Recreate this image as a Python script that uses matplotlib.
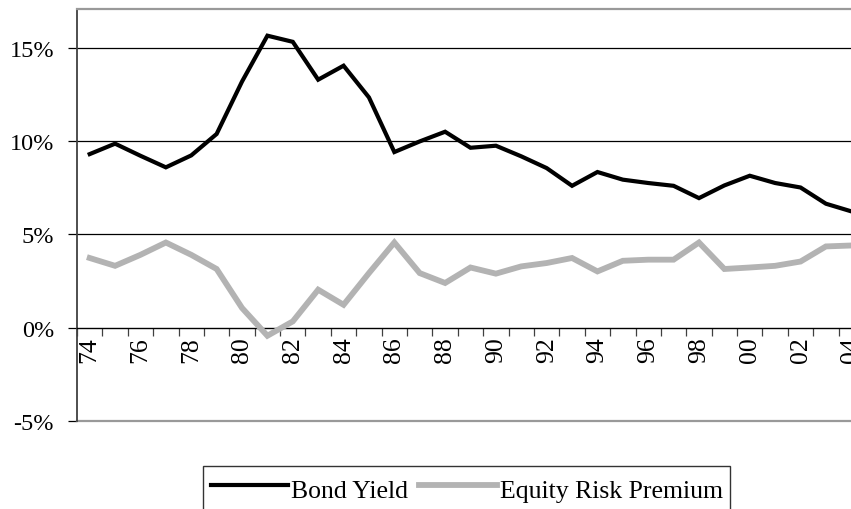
import numpy as np
import matplotlib.pyplot as plt
from matplotlib.ticker import FixedLocator, FuncFormatter

plt.rcParams['font.family'] = ['Liberation Serif', 'DejaVu Serif']

# data (percent)
years = list(range(1974, 2005))
bond_yield = [9.31, 9.87, 9.22, 8.60, 9.24, 10.39, 13.20, 15.66, 15.33, 13.30,
              14.05, 12.35, 9.42, 9.99, 10.51, 9.65, 9.76, 9.19, 8.56, 7.61,
              8.35, 7.94, 7.76, 7.61, 6.95, 7.63, 8.15, 7.76, 7.52, 6.65, 6.24]
equity_premium = [3.74, 3.32, 3.91, 4.57, 3.91, 3.15, 1.06, -0.43, 0.34, 2.04,
                  1.23, 2.93, 4.57, 2.93, 2.40, 3.23, 2.90, 3.29, 3.47, 3.74,
                  3.02, 3.59, 3.65, 3.65, 4.57, 3.15, 3.23, 3.32, 3.55, 4.36, 4.41]
y_ticks = [-5, 0, 5, 10, 15]

fig = plt.figure(figsize=(8.51, 5.10), dpi=100)
# plot area runs past the right edge of the picture, as in the original
ax = fig.add_axes([77 / 851, 88 / 510, 787 / 851, 412 / 510])

x = np.arange(len(years))
ax.plot(x, bond_yield, color='black', lw=3.0, label='Bond Yield', zorder=4,
        solid_joinstyle='miter')
ax.plot(x, equity_premium, color='#b3b3b3', lw=4.2, label='Equity Risk Premium', zorder=3,
        solid_joinstyle='miter')

ax.set_xlim(-0.5, len(years) - 0.5)
ax.set_ylim(-5, 17.09)

# gridlines
for v in [5, 10, 15]:
    ax.axhline(v, color='black', lw=0.9, zorder=1)
ax.axhline(-5, color='#999999', lw=1.6, clip_on=False, zorder=2)

ax.spines['right'].set_visible(False)
ax.spines['top'].set_color('#999999')
ax.spines['top'].set_linewidth(1.6)
ax.spines['left'].set_color('#404040')
ax.spines['left'].set_linewidth(1.3)
ax.spines['bottom'].set_position(('data', 0))
ax.spines['bottom'].set_color('black')
ax.spines['bottom'].set_linewidth(1.0)

ax.set_yticks(y_ticks)
ax.set_yticklabels([f"{v}%" for v in y_ticks])
ax.tick_params(axis='y', direction='out', length=6.5, width=0.9, color='black',
               pad=10, labelsize=17.5)

ax.xaxis.set_major_locator(FixedLocator(x[::2]))
ax.xaxis.set_major_formatter(FuncFormatter(lambda v, p: f"{years[int(round(v))] % 100:02d}"))
ax.xaxis.set_minor_locator(FixedLocator(np.arange(-0.5, len(years), 1.0)))
ax.tick_params(axis='x', which='major', length=0, pad=6, labelsize=18.5,
               labelrotation=90)
ax.tick_params(axis='x', which='minor', direction='out', length=6, width=0.9,
               color='#404040')

leg = fig.legend(loc='upper left', bbox_to_anchor=(203 / 851, 43 / 510), ncol=2,
                 frameon=True, fancybox=False, fontsize=18.5, handlelength=3.0,
                 handleheight=1.4, handletextpad=0.12, columnspacing=0.45,
                 borderpad=0.3, borderaxespad=0)
leg.get_frame().set_edgecolor('black')
leg.get_frame().set_linewidth(1.0)

fig.savefig('out.png', dpi=100)
